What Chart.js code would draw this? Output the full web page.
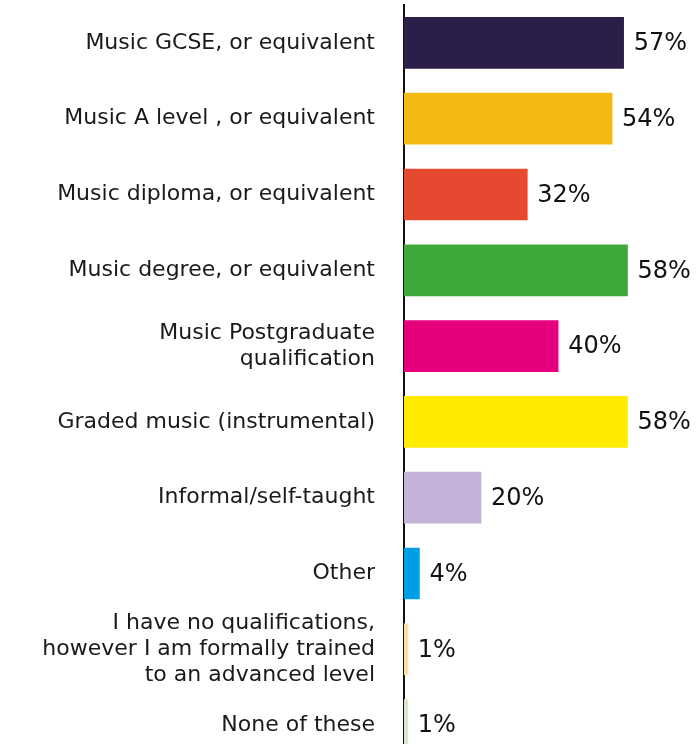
<!DOCTYPE html>
<html>
<head>
<meta charset="utf-8">
<script src="https://cdn.jsdelivr.net/npm/chart.js@4"></script>
<style>
  html, body { margin: 0; padding: 0; background: #fff; overflow: hidden; }
  #wrap { width: 696px; height: 770px; position: relative; }
</style>
</head>
<body>
<div id="wrap"><canvas id="chart"></canvas></div>
<script>
// Qualification categories (multi-line where the original wraps)
const categories = [
    'Music GCSE, or equivalent',
    'Music A level , or equivalent',
    'Music diploma, or equivalent',
    'Music degree, or equivalent',
    ['Music Postgraduate', 'qualification'],
    'Graded music (instrumental)',
    'Informal/self-taught',
    'Other',
    ['I have no qualifications,', 'however I am formally trained', 'to an advanced level'],
    'None of these'
];

// Percent of respondents
const percentages = [57, 54, 32, 58, 40, 58, 20, 4, 1, 1];

const barColors = [
    '#2b1f4a', '#f4b912', '#e54a30', '#3ea838', '#e6007e',
    '#ffeb00', '#c3b1d8', '#009fe3', '#fde0a4', '#d9e8cd'
];

const FONT = '"DejaVu Sans", sans-serif';

// draws the "57%" labels just past the end of each bar
const valueLabels = {
    id: 'valueLabels',
    afterDatasetsDraw(chart) {
        const ctx = chart.ctx;
        const meta = chart.getDatasetMeta(0);
        ctx.save();
        ctx.font = '24px ' + FONT;
        ctx.fillStyle = '#111';
        ctx.textAlign = 'left';
        ctx.textBaseline = 'middle';
        meta.data.forEach((bar, i) => {
            ctx.fillText(percentages[i] + '%', bar.x + 10, bar.y + 1);
        });
        ctx.restore();
    }
};

new Chart(document.getElementById('chart'), {
    type: 'bar',
    data: {
        labels: categories,
        datasets: [{
            data: percentages,
            backgroundColor: barColors,
            borderWidth: 0,
            barThickness: 51
        }]
    },
    options: {
        indexAxis: 'y',
        responsive: true,
        maintainAspectRatio: false,
        animation: false,
        layout: { padding: { top: 5, right: 3, bottom: 7, left: 0 } },
        plugins: {
            legend: { display: false },
            tooltip: { enabled: false }
        },
        scales: {
            x: {
                min: 0,
                max: 75,
                display: false
            },
            y: {
                grid: { display: false, drawTicks: false },
                border: { display: true, color: '#111', width: 2 },
                ticks: {
                    autoSkip: false,
                    color: '#1a1a1a',
                    padding: 29,
                    font: { family: FONT, size: 22, lineHeight: 1.2 }
                },
                afterFit(scale) {
                    scale.width = 404;
                    scale.paddingTop = 0;
                    scale.paddingBottom = 0;
                }
            }
        }
    },
    plugins: [valueLabels]
});
</script>
</body>
</html>
